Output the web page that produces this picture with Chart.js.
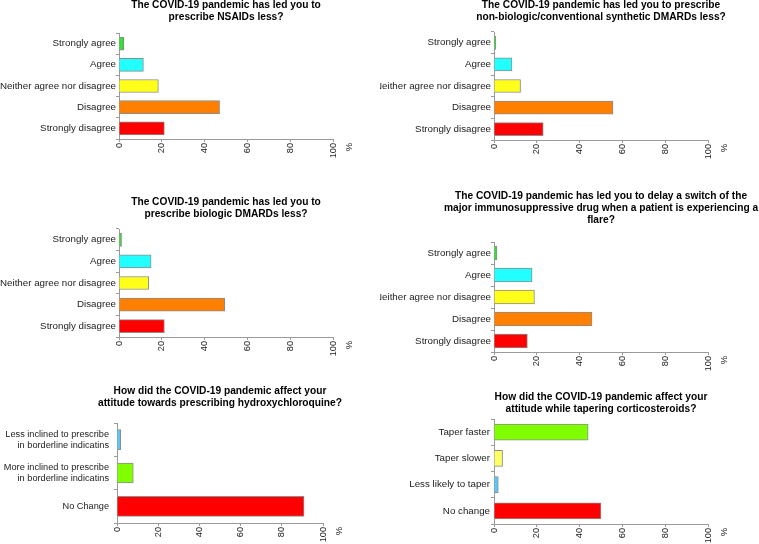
<!DOCTYPE html>
<html lang="en">
<head>
  <meta charset="UTF-8">
  <title>COVID-19 prescribing survey</title>
  <script src="https://cdn.jsdelivr.net/npm/chart.js"></script>
  <style>
    body { margin: 0; background: #fff; }
    #wrap { position: relative; width: 759px; height: 544px; overflow: hidden; }
    canvas { position: absolute; }
  </style>
</head>
<body>
  <div id="wrap">
    <canvas id="p1" width="380" height="170" style="left:0;top:0"></canvas>
    <canvas id="p2" width="379" height="170" style="left:380px;top:0"></canvas>
    <canvas id="p3" width="380" height="180" style="left:0;top:185px"></canvas>
    <canvas id="p4" width="379" height="200" style="left:380px;top:185px"></canvas>
    <canvas id="p5" width="380" height="164" style="left:0;top:380px"></canvas>
    <canvas id="p6" width="379" height="164" style="left:380px;top:380px"></canvas>
  </div>

  <script>
    // --- data (percent of respondents) ---
    const likertLabels = ['Strongly agree', 'Agree', 'Neither agree nor disagree', 'Disagree', 'Strongly disagree'];
    const nsaidValues = [2.2, 11.4, 18.4, 47, 21.2];
    const csDmardValues = [0.8, 8.4, 12.4, 55.6, 23];
    const bDmardValues = [1.2, 15, 13.9, 49.4, 21.2];
    const switchValues = [1.4, 17.8, 18.9, 45.8, 15.6];

    const hcqLabels = [
      ['Less inclined to prescribe', 'in borderline indicatins'],
      ['More inclined to prescribe', 'in borderline indicatins'],
      'No Change'
    ];
    const hcqValues = [1.8, 7.9, 90.8];

    const steroidLabels = ['Taper faster', 'Taper slower', 'Less likely to taper', 'No change'];
    const steroidValues = [44, 4, 2, 50];

    const xTicks = [0, 20, 40, 60, 80, 100];

    const likertColors = ['#2ee62e', '#22ffff', '#ffff1a', '#ff8000', '#ff0000'];
    const hcqColors = ['#5ac8fa', '#80ff00', '#ff0000'];
    const steroidColors = ['#80ff00', '#ffff66', '#5ac8fa', '#ff0000'];

    const FONT = "'Liberation Sans', Arial, sans-serif";
    const AXIS = '#9a9a9a';

    // titles and the "%" unit, drawn relative to the plot area
    const panelText = {
      id: 'panelText',
      afterDraw(chart, args, opts) {
        const { ctx, chartArea } = chart;
        const cx = (chartArea.left + chartArea.right) / 2;
        ctx.save();
        ctx.fillStyle = '#000';
        ctx.font = 'bold 10.2px ' + FONT;
        ctx.textAlign = 'center';
        ctx.textBaseline = 'middle';
        opts.lines.forEach((line, i) => ctx.fillText(line, cx, opts.y + i * 12));
        ctx.translate(chartArea.right + 16, chartArea.bottom + 8);
        ctx.rotate(-Math.PI / 2);
        ctx.font = '9.5px ' + FONT;
        ctx.fillStyle = '#222';
        ctx.fillText('%', 0, 0);
        ctx.restore();
      }
    };

    // p = canvas box + wanted plot area (canvas coords)
    function makePanel(id, labels, values, colors, titleLines, p) {
      const canvas = document.getElementById(id);
      return new Chart(canvas.getContext('2d'), {
        type: 'bar',
        data: {
          labels,
          datasets: [{
            data: values,
            backgroundColor: colors,
            borderColor: '#8c8c8c',
            borderWidth: 1,
            barThickness: p.bar
          }]
        },
        options: {
          indexAxis: 'y',
          responsive: false,
          animation: false,
          layout: { padding: { top: p.top, right: canvas.width - p.right, left: 0, bottom: 0 } },
          plugins: {
            legend: { display: false },
            tooltip: { enabled: false },
            panelText: { lines: titleLines, y: p.titleY }
          },
          scales: {
            x: {
              min: 0, max: 100,
              afterBuildTicks: s => { s.ticks = xTicks.map(v => ({ value: v })); },
              afterFit: s => { s.height = canvas.height - p.bottom; },
              grid: { drawOnChartArea: false, drawTicks: true, tickLength: 3, color: AXIS },
              border: { color: AXIS },
              ticks: { minRotation: 90, maxRotation: 90, padding: 1, color: '#222', font: { family: FONT, size: 9.2 } }
            },
            y: {
              afterFit: s => { s.width = p.left; },
              grid: { drawOnChartArea: false, drawTicks: true, tickLength: 3, color: AXIS },
              border: { color: AXIS },
              ticks: { padding: p.pad, color: '#222', font: { family: FONT, size: p.fs || 9.75, lineHeight: 1.2 } }
            }
          }
        },
        plugins: [panelText]
      });
    }

    makePanel('p1', likertLabels, nsaidValues, likertColors,
      ['The COVID-19 pandemic has led you to', 'prescribe NSAIDs less?'],
      { left: 119, right: 333, top: 33, bottom: 139, titleY: 5, bar: 13, pad: 0 });

    makePanel('p2', likertLabels, csDmardValues, likertColors,
      ['The COVID-19 pandemic has led you to prescribe', 'non-biologic/conventional synthetic DMARDs less?'],
      { left: 114, right: 328, top: 32, bottom: 140, titleY: 5, bar: 13, pad: 0 });

    makePanel('p3', likertLabels, bDmardValues, likertColors,
      ['The COVID-19 pandemic has led you to', 'prescribe biologic DMARDs less?'],
      { left: 119, right: 333, top: 44, bottom: 152, titleY: 17, bar: 13, pad: 0 });

    makePanel('p4', likertLabels, switchValues, likertColors,
      ['The COVID-19 pandemic has led you to delay a switch of the',
       'major immunosuppressive drug when a patient is experiencing a', 'flare?'],
      { left: 114, right: 328, top: 57, bottom: 167, titleY: 11, bar: 14, pad: 0 });

    makePanel('p5', hcqLabels, hcqValues, hcqColors,
      ['How did the COVID-19 pandemic affect your', 'attitude towards prescribing hydroxychloroquine?'],
      { left: 117, right: 323, top: 43, bottom: 143, titleY: 11, bar: 20, pad: 5, fs: 9.2 });

    makePanel('p6', steroidLabels, steroidValues, steroidColors,
      ['How did the COVID-19 pandemic affect your', 'attitude while tapering corticosteroids?'],
      { left: 114, right: 328, top: 39, bottom: 144, titleY: 17, bar: 16, pad: 1 });
  </script>
</body>
</html>
